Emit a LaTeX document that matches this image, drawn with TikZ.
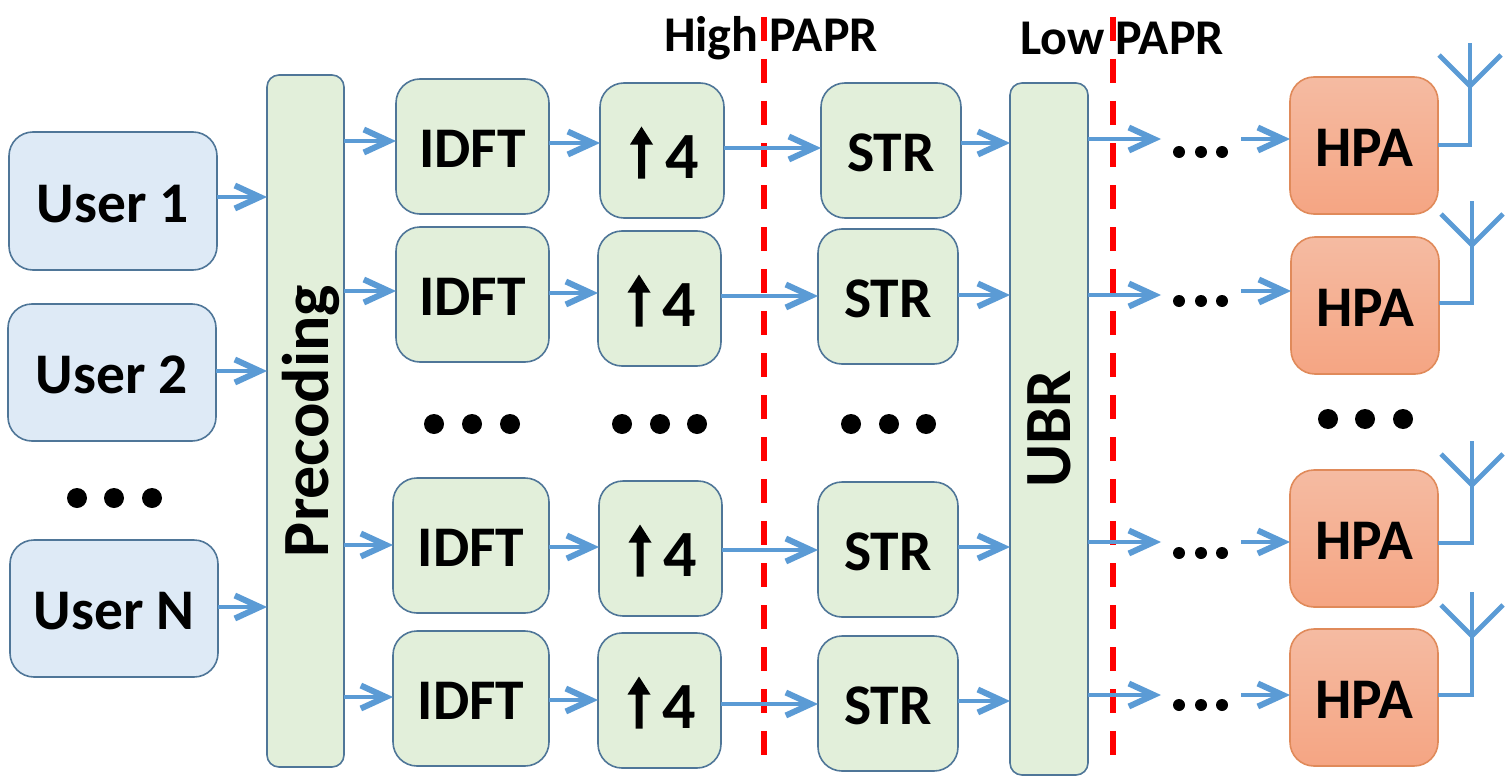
\documentclass[tikz,border=0pt]{standalone}
\usepackage{fontspec}
\setmainfont{Carlito}
\usetikzlibrary{arrows.meta,calc}
\definecolor{bluefill}{HTML}{DEEAF6}
\definecolor{greenfill}{HTML}{E2EFDA}
\definecolor{boxline}{HTML}{4F7698}
\definecolor{arrowblue}{HTML}{5B9BD5}
\definecolor{hpatop}{HTML}{F5BBA2}
\definecolor{hpabot}{HTML}{F5A583}
\definecolor{hpaline}{HTML}{E08A5A}
\tikzset{
  basebox/.style={rounded corners=24pt,line width=1.6pt,inner sep=0pt,outer sep=0pt,text=black,text height=44pt,text depth=2pt,font=\fontsize{57.5}{58}\selectfont\bfseries},
  userbox/.style={basebox,draw=boxline,fill=bluefill},
  greenbox/.style={basebox,draw=boxline,fill=greenfill},
  tallbox/.style={greenbox,rounded corners=12pt,text height=,text depth=,font=\fontsize{66}{66}\selectfont\bfseries},
  hpabox/.style={basebox,draw=hpaline,top color=hpatop,bottom color=hpabot},
  arr/.style={draw=arrowblue,line width=4.8pt,-{Straight Barb[length=25pt,width=23pt,line width=6pt]}},
  ant/.style={draw=arrowblue,line width=4.8pt},
  redline/.style={draw=red,line width=6pt,dash pattern=on 24pt off 18pt},
  toplabel/.style={anchor=base,inner sep=0pt,font=\fontsize{50}{50}\selectfont\bfseries},
  bigdot/.style={fill=black,circle,inner sep=0pt,minimum size=20pt},
  smalldot/.style={fill=black,circle,inner sep=0pt,minimum size=12pt},
  uparrow/.style={fill=black,draw=none}
}
\newcommand{\bx}[7]{\node[#6,minimum width=#4pt-#2pt,minimum height=#5pt-#3pt] (#1) at ({(#2+#4)/2},{(#3+#5)/2}) {#7};}
% upsampling box content: arrow and numeral
\newcommand{\upfour}[1]{%
  \node[inner sep=0pt,font=\fontsize{66}{66}\selectfont\bfseries] at ($(#1)+(20,7)$) {4};
  \fill[uparrow,shift={(#1)}] (-24,28) -- (-24,-6) -- (-32,-6) -- (-20.5,-24) -- (-9,-6) -- (-17,-6) -- (-17,28) -- cycle;
}
\newcommand{\flow}[4]{\draw[arr] (#1 |- 0,#3) -- (#2 |- 0,#3);}
\begin{document}
\begin{tikzpicture}[x=1pt,y=-1pt]
\useasboundingbox (0,0) rectangle (1506,781);
% dashed boundaries
\coordinate (ra) at (764,17); \coordinate (rb) at (764,756);
\coordinate (rc) at (1113,17); \coordinate (rd) at (1113,756);
\draw[redline] (ra) -- (rb);
\draw[redline] (rc) -- (rd);
\node[toplabel] (high) at (771,52) {High PAPR};
\node[toplabel] (low) at (1122,55) {Low PAPR};
% users
\bx{u1}{9}{132}{217}{270}{userbox}{User 1}
\bx{u2}{8}{304}{216}{441}{userbox}{User 2}
\bx{un}{10}{540}{218}{677}{userbox}{User N}
% tall blocks
\bx{prec}{267}{75}{344}{767}{tallbox}{\hspace*{10pt}\rotatebox{90}{Precoding}}
\bx{ubr}{1010}{83}{1088}{775}{tallbox}{\rotatebox{90}{UBR}}
% IDFT
\bx{i1}{396}{79}{549}{214}{greenbox}{IDFT}
\bx{i2}{396}{227}{549}{362}{greenbox}{IDFT}
\bx{i3}{393}{478}{549}{613}{greenbox}{IDFT}
\bx{i4}{393}{631}{549}{766}{greenbox}{IDFT}
% upsampling
\bx{a1}{600}{83}{724}{218}{greenbox}{}
\bx{a2}{598}{231}{721}{366}{greenbox}{}
\bx{a3}{599}{481}{722}{616}{greenbox}{}
\bx{a4}{598}{633}{721}{768}{greenbox}{}
\upfour{a1}\upfour{a2}\upfour{a3}\upfour{a4}
% STR
\bx{s1}{821}{83}{961}{218}{greenbox}{STR}
\bx{s2}{818}{229}{958}{364}{greenbox}{STR}
\bx{s3}{818}{482}{958}{617}{greenbox}{STR}
\bx{s4}{818}{636}{958}{771}{greenbox}{STR}
% HPA
\bx{h1}{1290}{77}{1438}{214}{hpabox}{HPA}
\bx{h2}{1291}{237}{1439}{374}{hpabox}{HPA}
\bx{h3}{1290}{470}{1438}{607}{hpabox}{HPA}
\bx{h4}{1290}{629}{1438}{766}{hpabox}{HPA}
% dot groups
\foreach \x in {77,114,152} \node[bigdot] at (\x,498) {};
\foreach \x in {434,472,510,622,660,697,851,889,926} \node[bigdot] at (\x,424) {};
\foreach \x in {1328,1365,1403} \node[bigdot] at (\x,419) {};
\foreach \y in {152,301,553,705} \foreach \x in {1179,1201,1222} \node[smalldot] at (\x,\y) {};
% free ends around the small dots
\coordinate (dl) at (1161,0); \coordinate (dr) at (1241,0);
% connectors
\flow{u1.east}{prec.west}{197}{}
\flow{u2.east}{prec.west}{371}{}
\flow{un.east}{prec.west}{607}{}
\flow{prec.east}{i1.west}{141}{}
\flow{prec.east}{i2.west}{291}{}
\flow{prec.east}{i3.west}{545}{}
\flow{prec.east}{i4.west}{697}{}
\flow{i1.east}{a1.west}{143}{}
\flow{i2.east}{a2.west}{293}{}
\flow{i3.east}{a3.west}{547}{}
\flow{i4.east}{a4.west}{700}{}
\flow{a1.east}{s1.west}{148}{}
\flow{a2.east}{s2.west}{296}{}
\flow{a3.east}{s3.west}{550}{}
\flow{a4.east}{s4.west}{704}{}
\flow{s1.east}{ubr.west}{143}{}
\flow{s2.east}{ubr.west}{295}{}
\flow{s3.east}{ubr.west}{547}{}
\flow{s4.east}{ubr.west}{701}{}
\flow{ubr.east}{dl}{139}{}
\flow{ubr.east}{dl}{295}{}
\flow{ubr.east}{dl}{542}{}
\flow{ubr.east}{dl}{695}{}
\flow{dr}{h1.west}{139}{}
\flow{dr}{h2.west}{291}{}
\flow{dr}{h3.west}{542}{}
\flow{dr}{h4.west}{695}{}
% antennas
\draw[ant] (h1.east |- 0,145) -| (1470,43);
\draw[ant] (1439,55) -- (1470,86) -- (1501,55);
\draw[ant] (h2.east |- 0,303) -| (1472,201);
\draw[ant] (1441,214) -- (1472,245) -- (1503,214);
\draw[ant] (h3.east |- 0,543) -| (1472,441);
\draw[ant] (1441,454) -- (1472,485) -- (1503,454);
\draw[ant] (h4.east |- 0,695) -| (1472,592);
\draw[ant] (1441,605) -- (1472,636) -- (1503,605);
\end{tikzpicture}
\end{document}
